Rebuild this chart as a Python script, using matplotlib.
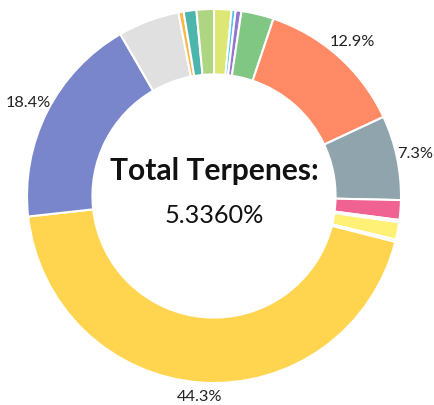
import matplotlib.pyplot as plt
import numpy as np

# slices, clockwise from 12 o'clock
values = [1.5, 0.35, 0.5, 2.8, 12.9, 7.3, 1.7, 0.2, 1.5, 0.2, 44.3, 18.4, 5.3, 0.45, 1.1, 1.5]
colors = ['#dce775', '#4fc3f7', '#9575cd', '#81c784', '#ff8a65', '#90a4ae', '#f06292', '#90caf9',
          '#fff176', '#90caf9', '#ffd54f', '#7986cb', '#e0e0e0', '#ffb74d', '#4db6ac', '#aed581']
title = "Total Terpenes:"
total = "5.3360%"

fig = plt.figure(figsize=(4.34, 4.06), dpi=100)
ax = fig.add_axes([0, 0, 1, 1])
R = 187
cx, cy = 214, 197

wedges, _ = ax.pie(values, colors=colors, startangle=90, counterclock=False, radius=1,
                   wedgeprops=dict(width=0.35, edgecolor='white', linewidth=1.5))

x0, x1 = -cx / R, (434 - cx) / R
y0, y1 = -(406 - cy) / R, cy / R
ax.set_xlim(x0, x1)
ax.set_ylim(y0, y1)
ax.set_aspect('equal')
ax.axis('off')

# labels for the big slices, kept inside the canvas
for w, v in zip(wedges, values):
    if v < 7:
        continue
    mid = np.deg2rad((w.theta1 + w.theta2) / 2)
    tx, ty = 1.11 * np.cos(mid), 1.11 * np.sin(mid)
    tx = min(max(tx, x0 + 24 / R), x1 - 19 / R)
    ty = min(max(ty, y0 + 9 / R), y1 - 9 / R)
    ax.text(tx, ty, f"{v:.1f}%", ha='center', va='center',
            fontsize=11.8, family='Lato', color='#222222')

ax.text(0, 0.14, title, ha='center', va='center', fontsize=21.6, fontweight='bold', family='Lato', color='#111111')
ax.text(0, -0.1, total, ha='center', va='center', fontsize=18.2, family='Lato', color='#111111')

fig.savefig('out.png', dpi=100)
